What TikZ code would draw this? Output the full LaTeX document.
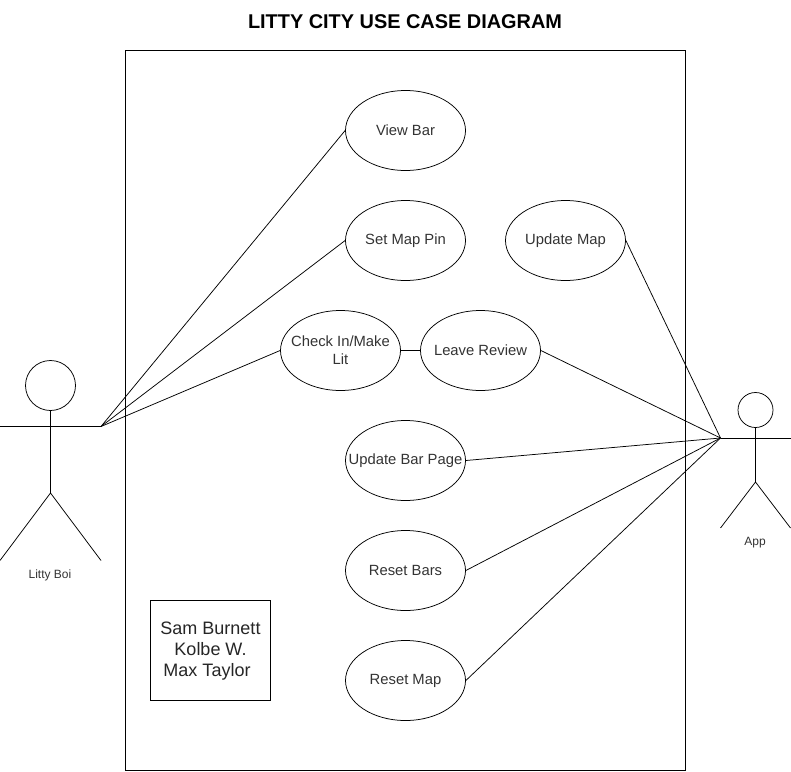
\documentclass[tikz,border=0pt]{standalone}
\usepackage{fontspec}
\setmainfont{Liberation Sans}
\usetikzlibrary{shapes.geometric}
\begin{document}
\begin{tikzpicture}[x=1pt,y=-1pt,
  lin/.style={draw=black,line width=0.75pt},
  uc/.style={ellipse,lin,minimum width=120pt,minimum height=80pt,inner ysep=0pt,inner xsep=-30pt,font=\fontsize{14.8pt}{18pt}\selectfont,align=center,text=black!80},
  small/.style={font=\fontsize{12pt}{14pt}\selectfont,text=black!80}]
\useasboundingbox (0,0) rectangle (791,771);
\node[font=\bfseries\fontsize{19.9pt}{24pt}\selectfont] (title) at (405,21.5) {LITTY CITY USE CASE DIAGRAM};
\node[lin,minimum width=560pt,minimum height=720pt,inner sep=0pt] (sys) at (405.5,410.5) {};
\node[uc] (view) at (405.5,130.5) {View Bar};
\node[uc] (pin) at (405.5,240.5) {Set Map Pin};
\node[uc] (update) at (565.5,240.5) {Update Map};
\node[uc] (check) at (340.5,350.5) {Check In/Make\\Lit};
\node[uc] (review) at (480.5,350.5) {Leave Review};
\node[uc] (page) at (405.5,460.5) {Update Bar Page};
\node[uc] (bars) at (405.5,570.5) {Reset Bars};
\node[uc] (map) at (405.5,680.5) {Reset Map};
\node[lin,minimum width=120pt,minimum height=100pt,inner sep=0pt] (names) at (210.5,650.5) {};
\node[inner sep=0pt,font=\fontsize{18pt}{21pt}\selectfont,align=center,text=black!85] (namestext) at (210.5,651) {Sam Burnett\\Kolbe W.\\Max Taylor\rule{7pt}{0pt}};
% Litty Boi actor
\node[circle,lin,minimum size=50pt,inner sep=0pt] (headA) at (50.5,385.5) {};
\coordinate (handsAl) at (0,426.5);
\coordinate (handsA) at (101,426.5);
\coordinate (hipA) at (50.5,493);
\coordinate (footAl) at (0,560.5);
\coordinate (footAr) at (101,560.5);
\draw[lin] (handsAl) -- (handsA);
\draw[lin] (headA.south) -- (hipA);
\draw[lin] (footAl) -- (hipA) -- (footAr);
\node[small] (boi) at (50,575) {Litty Boi};
% App actor
\node[circle,lin,minimum size=35pt,inner sep=0pt] (headB) at (755.5,410) {};
\coordinate (handsB) at (720.5,438);
\coordinate (handsBr) at (790.5,438);
\coordinate (hipB) at (755.5,482);
\coordinate (footBl) at (720.5,528);
\coordinate (footBr) at (790.5,528);
\draw[lin] (handsB) -- (handsBr);
\draw[lin] (headB.south) -- (hipB);
\draw[lin] (footBl) -- (hipB) -- (footBr);
\node[small] (app) at (755,543) {App};
% connectors
\draw[lin] (handsA) -- (view.west);
\draw[lin] (handsA) -- (pin.west);
\draw[lin] (handsA) -- (check.west);
\draw[lin] (check) -- (review);
\draw[lin] (update.east) -- (handsB);
\draw[lin] (review.east) -- (handsB);
\draw[lin] (page.east) -- (handsB);
\draw[lin] (bars.east) -- (handsB);
\draw[lin] (map.east) -- (handsB);
\end{tikzpicture}
\end{document}
